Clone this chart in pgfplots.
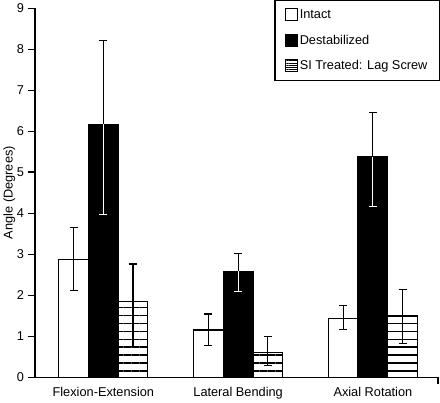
\documentclass[border=0pt]{standalone}
\usepackage{pgfplots}
\pgfplotsset{compat=1.18}
\usepackage{fontspec}
\setmainfont{Liberation Sans}
\usetikzlibrary{patterns.meta}
\begin{document}
\begin{tikzpicture}
\begin{axis}[
  width=404pt, height=370pt,
  scale only axis,
  ybar,
  bar width=0.22,
  xmin=-0.507, xmax=2.483,
  ymin=0, ymax=9,
  axis lines=left,
  axis line style={-, line width=1.1pt},
  ytick={0,1,...,9},
  yticklabel={\pgfmathprintnumber{\tick}\hspace{4pt}\rule[3.9pt]{7pt}{1.1pt}},
  yticklabel style={inner xsep=0pt},
  xtick={0,1,2},
  xticklabels={Flexion-Extension, Lateral Bending, Axial Rotation},
  xticklabel style={yshift=-7pt},
  extra x ticks={2.483},
  extra x tick labels={\rule{1.1pt}{7pt}},
  extra x tick style={xticklabel style={yshift=7pt, inner sep=0pt, anchor=north}},
  major tick length=0pt,
  /pgf/number format/assume math mode=true,
  tick label style={font=\fontsize{12.8}{15}\selectfont},
  ylabel={Angle (Degrees)},
  label style={font=\fontsize{12.8}{15}\selectfont},
  ylabel style={yshift=-2pt},
  legend style={at={(rel axis cs:1.005,1.022)}, anchor=north east,
    draw=black, line width=1.1pt, font=\fontsize{12.8}{15}\selectfont,
    row sep=11pt, inner xsep=10pt, inner ysep=7pt},
  legend cell align=left,
  legend image code/.code={\draw[#1, line width=0.8pt] (0pt,-6pt) rectangle (12pt,6pt);},
]
% Intact
\addplot[fill=white, draw=black, line width=1.2pt, bar shift=-0.22,
  error bars/.cd, y dir=both, y explicit,
  error bar style={line width=1.2pt, black},
  error mark options={rotate=90, mark size=4pt, line width=1.2pt, black}]
  coordinates {
  (0,2.87) += (0,0.77) -= (0,0.76)
  (1,1.15) += (0,0.39) -= (0,0.38)
  (2,1.44) += (0,0.30) -= (0,0.27)};
\addlegendentry{Intact}
% Destabilized
\addplot[fill=black, draw=black, line width=1.2pt, bar shift=0,
  error bars/.cd, y dir=plus, y explicit,
  error bar style={line width=1.2pt, black},
  error mark options={rotate=90, mark size=4pt, line width=1.2pt, black}]
  coordinates {
  (0,6.17) += (0,2.05) -= (0,2.20)
  (1,2.58) += (0,0.44) -= (0,0.50)
  (2,5.38) += (0,1.07) -= (0,1.21)};
\addlegendentry{Destabilized}
% SI Treated: Lag Screw
\addplot[fill=white, draw=black, line width=1.2pt, bar shift=0.22,
  postaction={pattern={Lines[angle=0, distance=8pt, line width=1.1pt]}},
  legend image code/.code={\draw[line width=0.8pt, fill=white, postaction={pattern={Lines[angle=0, distance=2.2pt, line width=0.5pt]}}] (0pt,-6pt) rectangle (12pt,6pt);},
  error bars/.cd, y dir=both, y explicit,
  error bar style={line width=1.2pt, black},
  error mark options={rotate=90, mark size=4pt, line width=1.2pt, black}]
  coordinates {
  (0,1.84) += (0,0.92) -= (0,1.09)
  (1,0.61) += (0,0.38) -= (0,0.33)
  (2,1.49) += (0,0.64) -= (0,0.67)};
\addlegendentry{SI Treated: Lag Screw}
% lower part of Destabilized error bars, white inside the black bars
\addplot[fill=none, draw=none, bar shift=0, forget plot,
  error bars/.cd, y dir=minus, y explicit,
  error bar style={line width=1.2pt, white},
  error mark options={rotate=90, mark size=4pt, line width=1.2pt, white}]
  coordinates {
  (0,6.17) += (0,2.05) -= (0,2.20)
  (1,2.58) += (0,0.44) -= (0,0.50)
  (2,5.38) += (0,1.07) -= (0,1.21)};
\end{axis}
\end{tikzpicture}
\end{document}
